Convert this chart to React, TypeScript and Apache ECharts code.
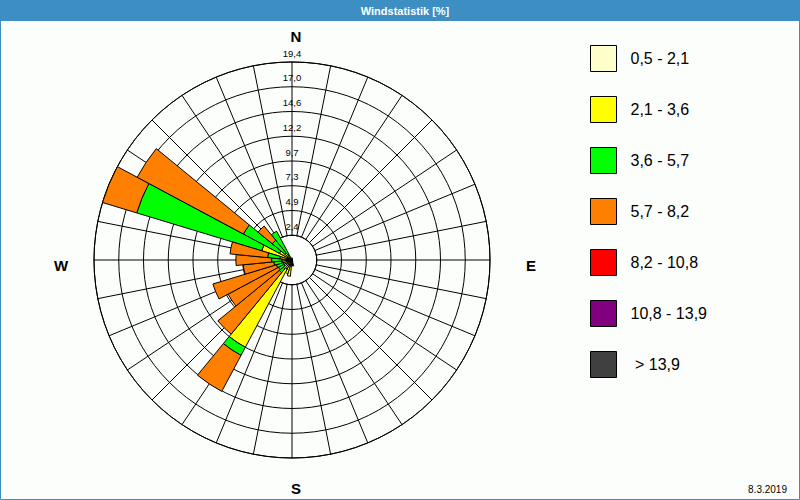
import React, { useEffect, useRef } from "react";
import * as echarts from "echarts";

// 32 compass directions, clockwise from north
const directions = [
  "N", "NzO", "NNO", "NOzN", "NO", "NOzO", "ONO", "OzN",
  "O", "OzS", "OSO", "SOzO", "SO", "SOzS", "SSO", "SzO",
  "S", "SzW", "SSW", "SWzS", "SW", "SWzW", "WSW", "WzS",
  "W", "WzN", "WNW", "NWzW", "NW", "NWzN", "NNW", "NzW",
];

const speedClasses = ["0,5 - 2,1", "2,1 - 3,6", "3,6 - 5,7", "5,7 - 8,2", "8,2 - 10,8", "10,8 - 13,9", "\u00a0> 13,9"];
const classColors = ["#FFFFCC", "#FFFF00", "#00FF00", "#FF8000", "#FF0000", "#800080", "#404040"];

// frequency [%] per direction and speed class
const speed1 = [0.2, 0, 0, 0, 0, 0, 0, 0, 0, 0, 0, 0, 0, 0, 0.2, 0.3, 0.4, 0.6, 0.6, 1.0, 0.5, 0.4, 0.4, 0.4, 0.4, 0.4, 0.4, 0.4, 0.3, 0.2, 0.2, 0.2];
const speed2 = [0, 0, 0, 0, 0, 0, 0, 0, 0, 0, 0, 0, 0, 0, 0, 0.3, 0, 1.0, 0.8, 8.7, 0.6, 0.5, 0.5, 0.6, 0.6, 0.8, 2.7, 1.0, 0.6, 0.4, 0, 0];
const speed3 = [0, 0, 0, 0, 0, 0, 0, 0, 0, 0, 0, 0, 0, 0, 0, 0, 0, 0, 0, 0.9, 0.5, 0.6, 0.7, 0.8, 1.0, 1.2, 12.8, 4.0, 1.6, 2.6, 0, 0];
const speed4 = [0, 0, 0, 0, 0, 0, 0, 0, 0, 0, 0, 0, 0, 0, 0, 0, 0, 0, 0, 4.0, 7.8, 5.6, 6.5, 3.0, 3.5, 3.7, 3.5, 11.8, 1.8, 0, 0, 0];
const speed5 = [0, 0, 0, 0, 0, 0, 0, 0, 0, 0, 0, 0, 0, 0, 0, 0, 0, 0, 0, 0, 0, 0, 0, 0, 0, 0, 0, 0, 0, 0, 0, 0];
const speed6 = [0, 0, 0, 0, 0, 0, 0, 0, 0, 0, 0, 0, 0, 0, 0, 0, 0, 0, 0, 0, 0, 0, 0, 0, 0, 0, 0, 0, 0, 0, 0, 0];
const speed7 = [0, 0, 0, 0, 0, 0, 0, 0, 0, 0, 0, 0, 0, 0, 0, 0, 0, 0, 0, 0, 0, 0, 0, 0, 0, 0, 0, 0, 0, 0, 0, 0];
const speedSeries = [speed1, speed2, speed3, speed4, speed5, speed6, speed7];

const radiusTickLabels = ["2,4", "4,9", "7,3", "9,7", "12,2", "14,6", "17,0", "19,4"];
const radiusMax = 19.4;
const angleStep = 11.25;

const compassLabels = [
  { text: "N", x: 296, y: 36 },
  { text: "E", x: 531, y: 265 },
  { text: "S", x: 296, y: 488 },
  { text: "W", x: 61, y: 265 },
];

const CX = 292;
const CY = 260;
const R = 198;

export default function App() {
  const ref = useRef<HTMLDivElement>(null);
  useEffect(() => {
    if (!ref.current) return;
    const chart = echarts.init(ref.current, undefined, { renderer: "svg" });
    const tickStep = radiusMax / radiusTickLabels.length;
    const option: any = {
      animation: false,
      backgroundColor: "#FCFEFC",
      textStyle: { fontFamily: "Liberation Sans" },
      polar: [
        { center: [CX, CY], radius: [0, R] },
        { center: [CX, CY], radius: [R * tickStep / radiusMax, R] },
      ],
      angleAxis: [
        {
          polarIndex: 0,
          type: "category",
          data: directions,
          startAngle: 90 + angleStep / 2,
          clockwise: true,
          boundaryGap: true,
          axisLine: { show: false },
          axisTick: { show: false },
          axisLabel: { show: false },
          splitLine: { show: false },
        },
        {
          polarIndex: 1,
          type: "value",
          min: 0,
          max: 360,
          interval: angleStep,
          startAngle: 90,
          clockwise: true,
          z: 1,
          axisLine: { show: true, lineStyle: { color: "#000", width: 1 } },
          axisTick: { show: false },
          axisLabel: { show: false },
          splitLine: { show: true, lineStyle: { color: "#000", width: 1 } },
        },
      ],
      radiusAxis: [
        {
          polarIndex: 0,
          type: "value",
          min: 0,
          max: radiusMax,
          show: false,
        },
        {
          polarIndex: 1,
          type: "value",
          min: tickStep,
          max: radiusMax,
          interval: tickStep,
          z: 1,
          axisLine: { show: false },
          axisTick: { show: false },
          splitLine: { show: true, lineStyle: { color: "#000", width: 1 } },
          axisLabel: {
            show: true,
            margin: 0,
            rotate: 0,
            align: "center",
            verticalAlign: "bottom",
            padding: [0, 0, 4, 0],
            fontSize: 9.5,
            color: "#000",
            fontFamily: "Liberation Sans",
            formatter: (v: number) => radiusTickLabels[Math.round(v / tickStep) - 1] ?? "",
          },
        },
      ],
      legend: {
        orient: "vertical",
        left: 590,
        top: 45,
        padding: 0,
        itemWidth: 26,
        itemHeight: 26,
        itemGap: 24,
        icon: "rect",
        selectedMode: false,
        itemStyle: { borderColor: "#000", borderWidth: 1 },
        textStyle: { fontSize: 16, color: "#000", fontFamily: "Liberation Sans", padding: [0, 0, 0, 9] },
        data: speedClasses,
      },
      series: speedSeries.map((arr, k) => ({
        type: "bar",
        name: speedClasses[k],
        coordinateSystem: "polar",
        polarIndex: 0,
        stack: "wind",
        barCategoryGap: "0%",
        data: arr.map((v) => (v > 0 ? v : "-")),
        itemStyle: { color: classColors[k], borderColor: "#000", borderWidth: 1 },
        emphasis: { disabled: true },
        z: 20,
      })),
      graphic: [
        { type: "rect", shape: { x: 0, y: 0, width: 800, height: 21 }, style: { fill: "#3D8FC3" }, z: 100 },
        { type: "rect", shape: { x: 0.5, y: 0.5, width: 799, height: 499 }, style: { fill: "none", stroke: "#3D8FC3", lineWidth: 1 }, z: 100 },
        {
          type: "text", x: 405, y: 11, z: 101,
          style: { text: "Windstatistik [%]", fill: "#fff", font: "bold 11px 'Liberation Sans'", textAlign: "center", textVerticalAlign: "middle" },
        },
        {
          type: "text", x: 787, y: 489, z: 101,
          style: { text: "8.3.2019", fill: "#000", font: "10px 'Liberation Sans'", textAlign: "right", textVerticalAlign: "middle" },
        },
        ...compassLabels.map((c) => ({
          type: "text", x: c.x, y: c.y, z: 101,
          style: { text: c.text, fill: "#000", font: "bold 15px 'Liberation Sans'", textAlign: "center", textVerticalAlign: "middle" },
        })),
      ],
    };
    chart.setOption(option);
    return () => chart.dispose();
  }, []);
  return <div ref={ref} style={{ position: "fixed", left: 0, top: 0, width: 800, height: 500 }} />;
}
